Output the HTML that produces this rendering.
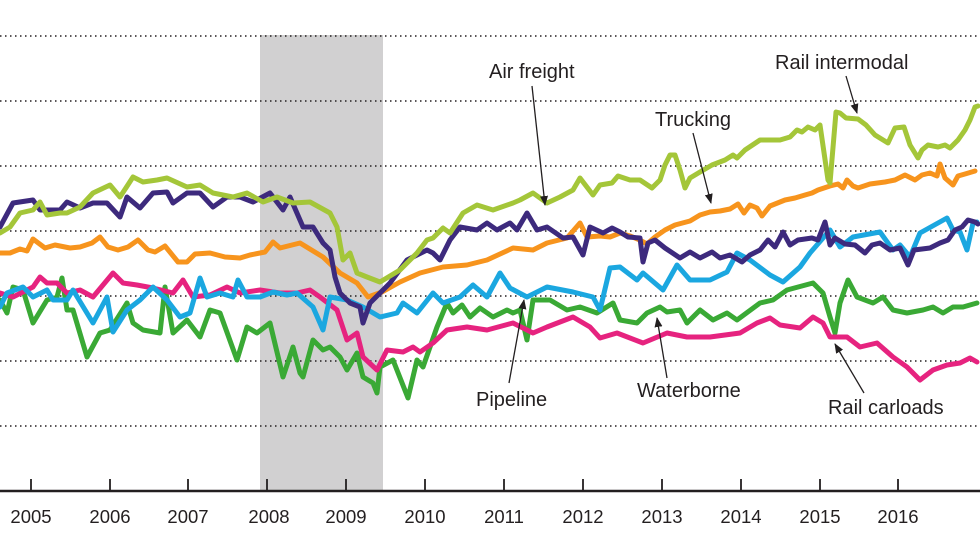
<!DOCTYPE html>
<html><head><style>
html,body{margin:0;padding:0;background:#fff;}
svg{display:block;}
text{font-family:"Liberation Sans",sans-serif;fill:#231f20;}
</style></head><body>
<svg width="980" height="552" viewBox="0 0 980 552" xmlns="http://www.w3.org/2000/svg">
<defs><marker id="ah" markerWidth="10" markerHeight="10" refX="9" refY="5" orient="auto" markerUnits="userSpaceOnUse"><path d="M0,1 L10,5 L0,9 Z" fill="#231f20"/></marker></defs>
<rect x="260" y="35" width="123" height="455" fill="#d1d0d1"/>
<g stroke="#231f20" stroke-width="1.5" stroke-dasharray="1.5,3.5">
<line x1="0" y1="36" x2="980" y2="36"/><line x1="0" y1="101" x2="980" y2="101"/><line x1="0" y1="166" x2="980" y2="166"/><line x1="0" y1="231" x2="980" y2="231"/><line x1="0" y1="296" x2="980" y2="296"/><line x1="0" y1="361" x2="980" y2="361"/><line x1="0" y1="426" x2="980" y2="426"/>
</g>
<g fill="none" stroke-width="5" stroke-linejoin="round" stroke-linecap="round">
<polyline stroke="#3aa935" points="0,300 7,313 13,287 23,290 33,323 47,300 57,297 62,278 67,310 73,310 87,357 100,333 110,330 127,303 133,323 143,330 160,333 165,287 173,333 187,320 200,337 210,310 220,313 237,360 247,327 257,333 270,323 283,377 293,347 300,373 303,377 313,340 323,350 330,347 340,357 347,370 357,353 363,377 373,383 377,393 380,367 393,360 408,398 417,360 423,367 437,327 447,303 453,313 462,305 470,317 480,308 493,317 507,310 513,313 520,310 527,340 533,300 550,300 567,310 580,307 597,313 613,303 620,320 637,323 647,313 660,307 667,312 680,310 687,323 700,310 713,320 727,313 737,320 760,303 773,300 787,290 813,283 823,293 830,317 835,333 840,303 848,280 857,297 873,303 883,297 893,310 907,313 923,310 933,307 943,313 953,307 963,307 977,303"/>
<polyline stroke="#e6237f" points="0,293 13,297 33,287 40,277 47,283 57,283 67,293 80,290 93,297 113,273 123,283 137,285 153,288 173,293 183,280 193,297 210,295 227,287 240,293 260,290 280,293 297,293 310,290 320,297 337,310 347,340 357,333 363,357 377,370 387,350 403,352 413,347 420,352 433,343 447,330 467,327 487,330 513,323 533,333 547,327 573,317 590,327 600,338 617,333 643,343 667,333 687,337 710,337 740,333 757,323 770,318 780,325 800,328 813,317 823,323 830,337 847,337 860,347 877,343 893,357 907,367 920,380 933,370 947,365 960,363 970,358 977,362"/>
<polyline stroke="#1ba7e0" points="0,307 7,293 23,287 33,297 47,290 53,300 67,300 73,290 93,323 107,297 113,332 127,310 140,300 153,287 167,300 180,317 190,313 200,278 207,297 220,293 233,297 238,280 247,297 260,297 273,292 287,295 297,293 313,307 323,330 330,297 347,300 363,307 380,317 397,313 403,303 417,313 433,293 443,303 460,297 473,285 487,297 500,273 510,288 527,297 547,287 573,292 593,297 600,310 610,268 620,267 637,280 643,273 663,290 677,265 690,280 710,280 727,272 737,253 750,260 770,275 783,282 800,267 810,253 830,230 840,247 853,237 880,232 893,250 900,245 910,257 920,233 947,218 953,230 960,232 967,250 973,223 977,222"/>
<polyline stroke="#f7941d" points="0,253 10,253 20,249 27,251 33,239 45,248 55,245 70,248 80,247 92,243 100,237 108,247 118,250 128,247 138,240 148,250 155,252 165,246 178,262 187,262 195,254 210,253 225,257 240,258 250,255 265,252 273,242 280,248 300,243 323,257 340,273 357,283 368,297 382,292 400,282 420,273 443,267 467,265 487,260 513,248 533,250 547,243 567,238 580,223 587,237 600,236 610,237 620,233 630,236 640,240 647,244 655,237 665,230 675,225 690,221 700,215 710,212 720,211 730,209 738,204 744,213 750,205 757,208 762,216 770,206 785,200 795,198 805,195 812,193 818,190 830,186 838,184 843,188 847,180 853,186 858,188 870,184 885,182 895,180 905,175 915,180 922,175 930,173 937,176 940,164 945,178 953,185 958,176 965,174 975,171"/>
<polyline stroke="#3d2a7d" points="0,227 13,203 33,200 40,210 60,210 67,202 80,208 93,203 107,203 120,217 127,197 140,208 153,193 167,192 173,203 187,193 200,193 213,207 227,197 240,197 253,202 270,193 283,210 290,197 303,227 313,227 323,243 330,250 335,277 340,293 350,303 360,307 363,323 370,303 380,293 390,283 407,260 427,250 433,253 440,260 450,240 460,227 477,230 487,223 497,230 510,223 517,230 527,213 537,230 547,227 563,238 573,237 583,255 590,227 603,233 612,228 620,232 628,237 640,238 643,262 648,243 655,240 665,248 680,258 690,252 700,258 712,252 720,258 730,255 742,262 750,255 760,250 768,240 775,247 783,232 790,245 798,240 812,238 818,240 825,222 830,245 835,238 845,244 855,245 865,253 872,245 880,243 890,250 900,248 908,265 914,250 930,248 940,243 948,240 955,230 962,227 968,220 975,222 978,224"/>
<polyline stroke="#a4c639" points="0,233 10,227 20,213 33,210 40,202 47,215 60,213 67,213 80,207 93,193 110,185 120,197 133,177 143,182 157,180 167,178 187,187 200,185 213,193 233,197 247,193 263,202 277,197 293,203 310,202 330,213 337,227 343,260 350,253 357,273 367,277 380,282 400,270 417,253 427,240 433,238 443,228 450,233 463,213 477,205 493,210 513,203 520,200 533,193 547,203 560,197 573,190 580,178 593,195 600,185 612,183 618,176 630,180 640,180 652,188 660,180 665,165 670,155 675,155 680,170 685,188 690,178 700,172 712,165 725,160 733,155 737,158 745,150 760,140 780,140 790,137 797,130 802,132 808,127 815,130 820,125 828,180 830,183 836,112 840,113 846,118 858,119 866,125 875,135 888,143 895,128 904,127 910,145 918,158 922,150 928,145 938,147 945,145 950,148 958,140 965,130 970,120 975,107 978,106"/>
</g>
<g stroke="#231f20" stroke-width="1.3" fill="none">
<line x1="532" y1="86" x2="545" y2="205" marker-end="url(#ah)"/>
<line x1="846" y1="76" x2="857" y2="113" marker-end="url(#ah)"/>
<line x1="693" y1="133" x2="711" y2="203" marker-end="url(#ah)"/>
<line x1="509" y1="383" x2="524" y2="300" marker-end="url(#ah)"/>
<line x1="667" y1="378" x2="657" y2="318" marker-end="url(#ah)"/>
<line x1="864" y1="393" x2="835" y2="344" marker-end="url(#ah)"/>
</g>
<g font-size="20">
<text x="489" y="78">Air freight</text>
<text x="775" y="69">Rail intermodal</text>
<text x="655" y="126">Trucking</text>
<text x="476" y="406">Pipeline</text>
<text x="637" y="397">Waterborne</text>
<text x="828" y="414">Rail carloads</text>
</g>
<line x1="0" y1="491" x2="980" y2="491" stroke="#231f20" stroke-width="2.5"/>
<g stroke="#231f20" stroke-width="1.8">
<line x1="31" y1="479" x2="31" y2="491"/><line x1="110" y1="479" x2="110" y2="491"/><line x1="188" y1="479" x2="188" y2="491"/><line x1="267" y1="479" x2="267" y2="491"/><line x1="346" y1="479" x2="346" y2="491"/><line x1="425" y1="479" x2="425" y2="491"/><line x1="504" y1="479" x2="504" y2="491"/><line x1="583" y1="479" x2="583" y2="491"/><line x1="662" y1="479" x2="662" y2="491"/><line x1="741" y1="479" x2="741" y2="491"/><line x1="820" y1="479" x2="820" y2="491"/><line x1="898" y1="479" x2="898" y2="491"/>
</g>
<g font-size="18.5" text-anchor="middle">
<text x="31" y="523">2005</text><text x="110" y="523">2006</text><text x="188" y="523">2007</text><text x="269" y="523">2008</text><text x="346" y="523">2009</text><text x="425" y="523">2010</text><text x="504" y="523">2011</text><text x="583" y="523">2012</text><text x="662" y="523">2013</text><text x="741" y="523">2014</text><text x="820" y="523">2015</text><text x="898" y="523">2016</text>
</g>
</svg>
</body></html>
